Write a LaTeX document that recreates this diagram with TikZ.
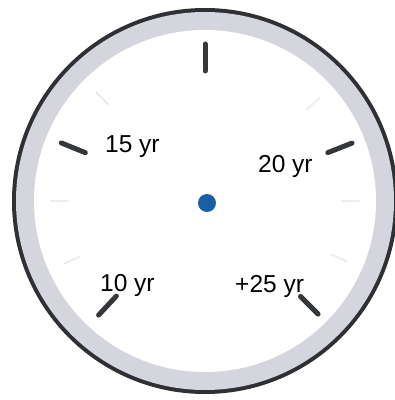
\documentclass[tikz,border=0pt]{standalone}
\usepackage{fontspec}
\setmainfont{Liberation Sans}
\usetikzlibrary{calc}
\definecolor{rimdark}{HTML}{2E3033}
\definecolor{rimlight}{HTML}{D5D5DD}
\definecolor{tickdark}{HTML}{35383B}
\definecolor{dotblue}{HTML}{1A5EA6}
\begin{document}
\begin{tikzpicture}[x=1pt,y=1pt,
  tickmark/.style={line width=5pt,line cap=round,draw=tickdark},
  faintmark/.style={line width=2pt,line cap=round,draw=black!7},
  lbl/.style={font=\fontsize{24.5}{26}\selectfont,inner sep=0pt,anchor=base west,text=black}]
\useasboundingbox (0,0) rectangle (395,400);
\clip (0,0) rectangle (395,400);
\coordinate (c) at (205,199);
\fill[rimdark] (c) circle (193);
\fill[rimlight] (c) circle (189);
\fill[white] (c) circle (171);
% faint ticks
\foreach \a in {0,42,135,180,204,-23}
  \draw[faintmark] ($(c)+(\a:137)$) -- ($(c)+(\a:154)$);
% main ticks
\draw[tickmark] ($(c)+(90:130)$) -- ($(c)+(90:157)$);
\draw[tickmark] ($(c)+(158:129)$) -- ($(c)+(158:155)$);
\draw[tickmark] ($(c)+(21.5:132)$) -- ($(c)+(21.5:158)$);
\draw[tickmark] ($(c)+(227:130)$) -- ($(c)+(227:156)$);
\draw[tickmark] ($(c)+(-45:135)$) -- ($(c)+(-45:160)$);
% labels
\node[lbl] (l15) at (105,247) {15 yr};
\node[lbl] (l20) at (258,227) {20 yr};
\node[lbl] (l10) at (100,108) {10 yr};
\node[lbl] (l25) at (235,107) {+25 yr};
% centre dot
\fill[dotblue] (207,197) circle (9);
\end{tikzpicture}
\end{document}
